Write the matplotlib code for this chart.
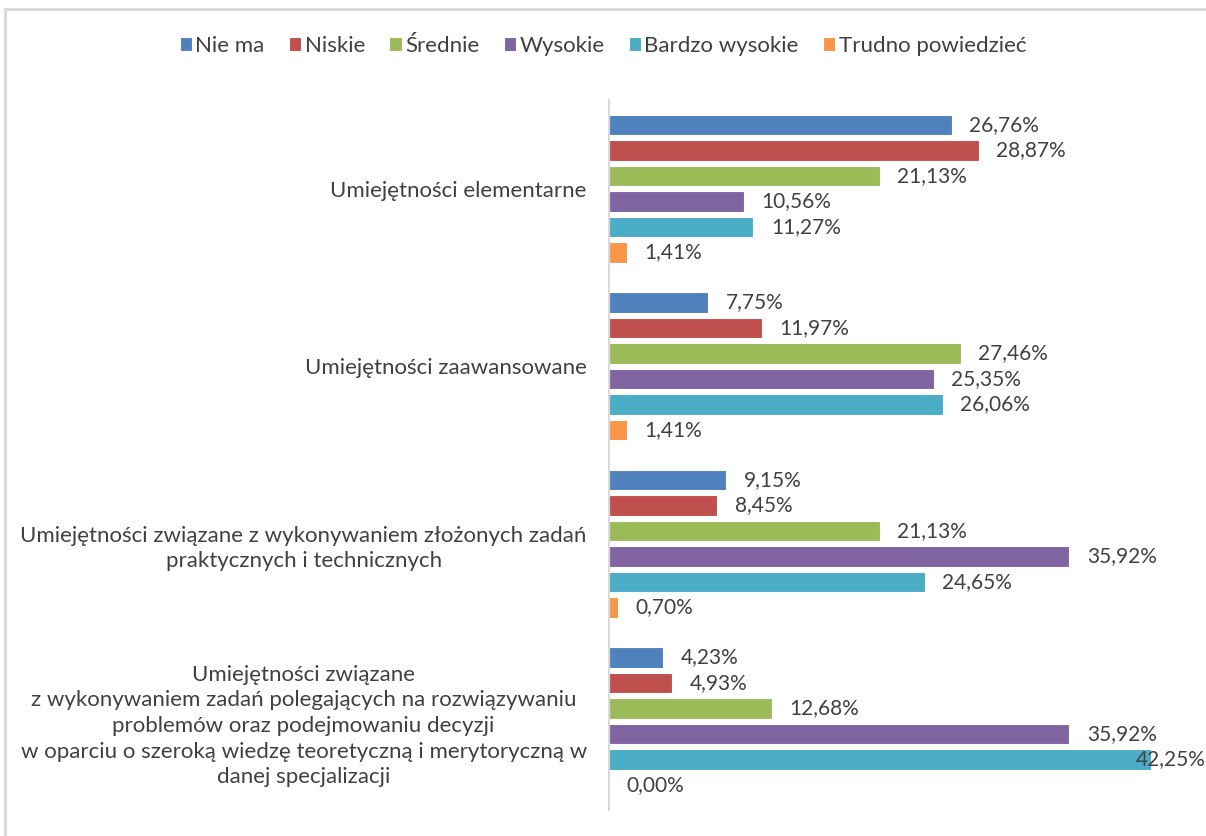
import numpy as np
import matplotlib
matplotlib.use('Agg')
import matplotlib.pyplot as plt
from matplotlib.patches import Rectangle

plt.rcParams['font.family'] = ['Lato', 'DejaVu Sans']

# data
categories = ['Umiejętności elementarne',
              'Umiejętności zaawansowane',
              'Umiejętności związane z wykonywaniem złożonych zadań\npraktycznych i technicznych',
              'Umiejętności związane\nz wykonywaniem zadań polegających na rozwiązywaniu\n'
              'problemów oraz podejmowaniu decyzji\nw oparciu o szeroką wiedzę teoretyczną i merytoryczną w\n'
              'danej specjalizacji']
series = ['Nie ma', 'Niskie', 'Średnie', 'Wysokie', 'Bardzo wysokie', 'Trudno powiedzieć']
nie_ma = [26.76, 7.75, 9.15, 4.23]
niskie = [28.87, 11.97, 8.45, 4.93]
srednie = [21.13, 27.46, 21.13, 12.68]
wysokie = [10.56, 25.35, 35.92, 35.92]
bardzo = [11.27, 26.06, 24.65, 42.25]
trudno = [1.41, 1.41, 0.70, 0.00]
values = [nie_ma, niskie, srednie, wysokie, bardzo, trudno]
colors = ['#4F81BD', '#C0504D', '#9BBB59', '#8064A2', '#4BACC6', '#F79646']

W, H = 1206, 836
fs = 15
fig = plt.figure(figsize=(W / 100, H / 100), dpi=100)
# light frame around chart area
fig.patches.append(Rectangle((5 / W, -0.1), 1.2, 1 - 9 / H + 0.1, transform=fig.transFigure,
                             fill=False, edgecolor='#d9d9d9', lw=2))

ax_left, ax_right = 609 / W, (609 + 45 * 12.82) / W
ax = fig.add_axes([ax_left, 1 - 810 / H, ax_right - ax_left, 710 / H])

y = np.arange(len(categories))
step = 0.1437
h = 0.113
txt = '#404040'
for i, (vals, c, name) in enumerate(zip(values, colors, series)):
    pos = y + (i - 2.5) * step
    ax.barh(pos, vals, height=h, color=c, edgecolor='white', lw=0.8, label=name)
    for p, v in zip(pos, vals):
        lab = f'{v:.2f}%'.replace('.', ',')
        if v > 40:
            # no room on the right: end the label at the figure edge
            edge = 1.0 + (W - (609 + 45 * 12.82)) / (45 * 12.82)
            ax.text(edge, p, lab, transform=ax.get_yaxis_transform(), ha='right',
                    va='center', fontsize=fs, color=txt)
        else:
            ax.text(v + 1.35, p, lab, ha='left', va='center', fontsize=fs, color=txt)

ax.set_xlim(0, 45)
ax.set_ylim(3.5, -0.5)
ax.set_xticks([])
ax.set_yticks(y)
ax.set_yticklabels(categories, fontsize=16, color=txt, multialignment='center', linespacing=1.35)
ax.tick_params(axis='y', length=0, pad=16)
for s in ['top', 'right', 'bottom']:
    ax.spines[s].set_visible(False)
ax.spines['left'].set_color('#d9d9d9')
ax.spines['left'].set_linewidth(1.5)

fig.legend(loc='center', bbox_to_anchor=(603 / W, 1 - 46 / H), ncol=6, frameon=False,
           fontsize=16, handlelength=0.55, handleheight=0.55, handletextpad=0.15,
           columnspacing=1.1, labelcolor=txt)

fig.savefig('out.png', dpi=100)
